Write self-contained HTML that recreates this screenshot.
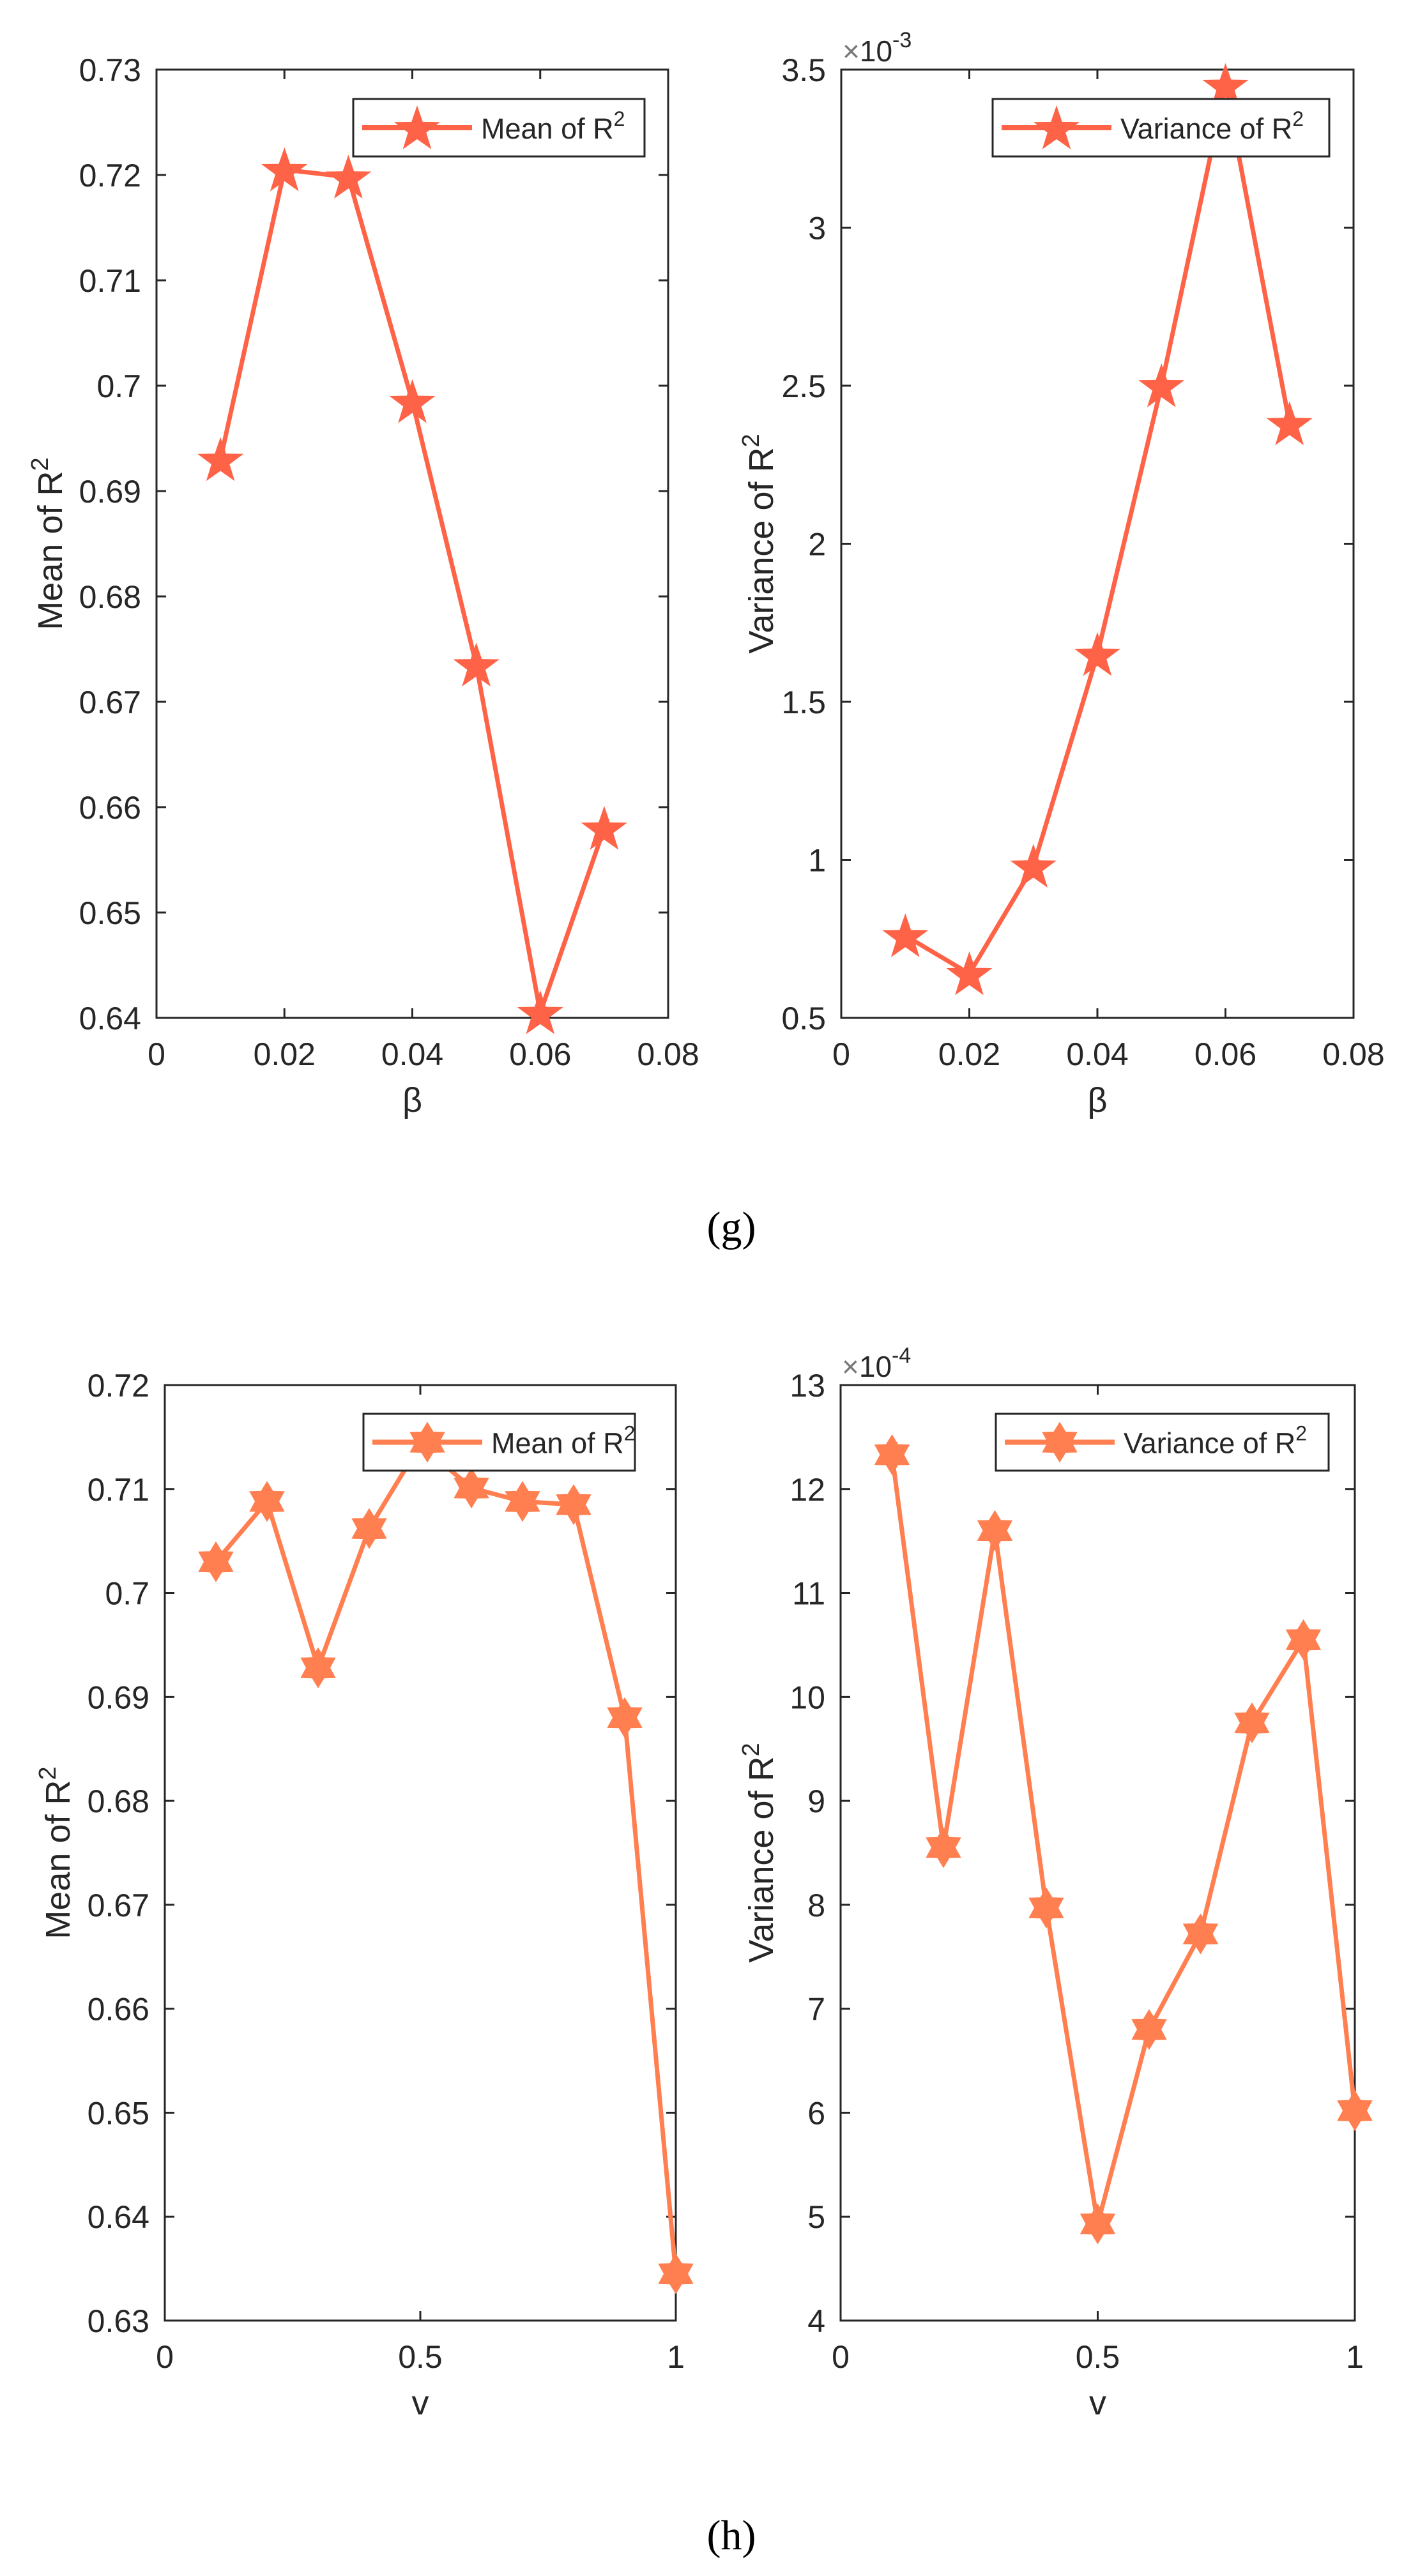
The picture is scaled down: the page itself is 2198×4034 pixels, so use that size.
<!DOCTYPE html>
<html><head><meta charset="utf-8"><style>
html,body{margin:0;padding:0;background:#fff;}
svg{display:block;}
text{font-family:"Liberation Sans",Arial,sans-serif;fill:#262626;}
</style></head><body>
<svg id="fig" xmlns="http://www.w3.org/2000/svg" width="2198" height="4034" viewBox="0 0 2198 4034">
<rect width="2198" height="4034" fill="#fff"/>
<text x="1145" y="1943" text-anchor="middle" style="font-family:'Liberation Serif',serif;font-size:66px;fill:#000">(g)</text>
<text x="1145" y="3992" text-anchor="middle" style="font-family:'Liberation Serif',serif;font-size:66px;fill:#000">(h)</text>
</svg>
<script>
// ---- data ----
const betaX = [0.01,0.02,0.03,0.04,0.05,0.06,0.07];
const betaMean = [0.693,0.7205,0.7198,0.6985,0.6735,0.6405,0.658];
const betaVar = [0.76,0.64,0.98,1.65,2.50,3.45,2.38];
const betaXTicks = [0,0.02,0.04,0.06,0.08];
const betaXTickLabels = ["0","0.02","0.04","0.06","0.08"];
const meanYTicksG = [0.64,0.65,0.66,0.67,0.68,0.69,0.7,0.71,0.72,0.73];
const meanYTickLabelsG = ["0.64","0.65","0.66","0.67","0.68","0.69","0.7","0.71","0.72","0.73"];
const varYTicksG = [0.5,1,1.5,2,2.5,3,3.5];
const varYTickLabelsG = ["0.5","1","1.5","2","2.5","3","3.5"];

const vX = [0.1,0.2,0.3,0.4,0.5,0.6,0.7,0.8,0.9,1.0];
const vMean = [0.703,0.7088,0.6928,0.7062,0.7143,0.7101,0.7088,0.7085,0.688,0.6345];
const vVar = [12.33,8.55,11.6,7.97,4.93,6.8,7.72,9.75,10.55,6.02];
const vXTicks = [0,0.5,1];
const vXTickLabels = ["0","0.5","1"];
const meanYTicksH = [0.63,0.64,0.65,0.66,0.67,0.68,0.69,0.7,0.71,0.72];
const meanYTickLabelsH = ["0.63","0.64","0.65","0.66","0.67","0.68","0.69","0.7","0.71","0.72"];
const varYTicksH = [4,5,6,7,8,9,10,11,12,13];
const varYTickLabelsH = ["4","5","6","7","8","9","10","11","12","13"];

const NS = "http://www.w3.org/2000/svg";
const svg = document.getElementById('fig');
function mk(tag, attrs, parent){
  const e = document.createElementNS(NS, tag);
  for (const k in attrs) e.setAttribute(k, attrs[k]);
  (parent||svg).appendChild(e);
  return e;
}
function starPts(cx, cy, n, ro, ri){
  const p=[];
  for(let i=0;i<2*n;i++){
    const r = i%2===0?ro:ri;
    const a = -Math.PI/2 + i*Math.PI/n;
    p.push((cx+r*Math.cos(a)).toFixed(1)+","+(cy+r*Math.sin(a)).toFixed(1));
  }
  return p.join(" ");
}
function drawPanel(cfg){
  const g = mk('g', {});
  
  
  const L=cfg.L,R=cfg.R,T=cfg.T,B=cfg.B;
  const sx = v => L + (v-cfg.xmin)/(cfg.xmax-cfg.xmin)*(R-L);
  const sy = v => B - (v-cfg.ymin)/(cfg.ymax-cfg.ymin)*(B-T);
  const box = mk('rect', {x:L,y:T,width:R-L,height:B-T,fill:'none',stroke:'#262626','stroke-width':3}, g);
  
  
  cfg.xticks.forEach((t,i)=>{
    const x = sx(t);
    const tk = mk('path', {d:`M${x},${B}v-15M${x},${T}v15`, stroke:'#262626','stroke-width':3}, g);
    
    
    const tl = mk('text', {x:x, y:B+74, 'text-anchor':'middle','font-size':50}, g);
    tl.textContent = cfg.xlabels[i];
    
    
  });
  cfg.yticks.forEach((t,i)=>{
    const y = sy(t);
    const tk = mk('path', {d:`M${L},${y}h15M${R},${y}h-15`, stroke:'#262626','stroke-width':3}, g);
    
    
    const tl = mk('text', {x:L-24, y:y+18, 'text-anchor':'end','font-size':50}, g);
    tl.textContent = cfg.ylabels[i];
    
    
  });
  const xt = mk('text', {x:(L+R)/2, y:B+147, 'text-anchor':'middle','font-size':54}, g);
  xt.textContent = cfg.xtitle;
  
  
  const cy=(T+B)/2;
  const yt = mk('text', {x:cfg.ytx, y:cy, 'text-anchor':'middle','font-size':54, transform:`rotate(-90 ${cfg.ytx} ${cy})`}, g);
  yt.innerHTML = cfg.ytitle + ' of R<tspan dy="-22" font-size="38">2</tspan>';
  
  
  if (cfg.exp){
    const ex = mk('text', {x:L+2, y:T-13,'font-size':46}, g);
    ex.innerHTML = '<tspan fill="#777">×</tspan>10<tspan dy="-22" font-size="34">'+cfg.exp+'</tspan>';
    
    
  }
  const pts = cfg.xs.map((x,i)=>sx(x).toFixed(1)+","+sy(cfg.ys[i]).toFixed(1)).join(" ");
  const line = mk('polyline', {points:pts, fill:'none', stroke:cfg.color,'stroke-width':7,'stroke-linejoin':'round'}, g);
  
  
  cfg.xs.forEach((x,i)=>{
    const m = mk('polygon', {points: cfg.hex ? starPts(sx(x), sy(cfg.ys[i]), 6, 32, 19) : starPts(sx(x), sy(cfg.ys[i])+3, 5, 38, 15), fill:cfg.color}, g);
    
    
  });
  const lg = mk('g', {}, g);
  
  
  const lb = mk('rect', {x:cfg.lg[0], y:cfg.lg[1], width:cfg.lg[2]-cfg.lg[0], height:cfg.lg[3]-cfg.lg[1], fill:'#fff', stroke:'#262626','stroke-width':3}, lg);
  
  
  const ly = (cfg.lg[1]+cfg.lg[3])/2;
  const ll = mk('path', {d:`M${cfg.lg[0]+14},${ly}h172`, stroke:cfg.color,'stroke-width':8}, lg);
  
  
  const lm = mk('polygon', {points: cfg.hex ? starPts(cfg.lg[0]+100, ly, 6, 32, 19) : starPts(cfg.lg[0]+100, ly+3, 5, 38, 15), fill:cfg.color}, lg);
  
  
  const lt = mk('text', {x:cfg.lg[0]+200, y:ly+17, 'font-size':45}, lg);
  lt.innerHTML = cfg.ytitle + ' of R<tspan dy="-20" font-size="32">2</tspan>';
  
  
}
const cTop = '#FF6347', cBot = '#FF7F50';
drawPanel({name:'plot-g-mean',L:245,R:1046,T:109,B:1594,xmin:0,xmax:0.08,ymin:0.64,ymax:0.73,
  xticks:betaXTicks,xlabels:betaXTickLabels,yticks:meanYTicksG,ylabels:meanYTickLabelsG,
  xtitle:'β',ytitle:'Mean',ytx:97,xs:betaX,ys:betaMean,color:cTop,hex:false,lg:[553,155,1009,245]});
drawPanel({name:'plot-g-variance',L:1317,R:2119,T:109,B:1594,xmin:0,xmax:0.08,ymin:0.5,ymax:3.5,
  xticks:betaXTicks,xlabels:betaXTickLabels,yticks:varYTicksG,ylabels:varYTickLabelsG,
  xtitle:'β',ytitle:'Variance',ytx:1210,xs:betaX,ys:betaVar,color:cTop,hex:false,exp:'-3',lg:[1554,155,2081,245]});
drawPanel({name:'plot-h-mean',L:258,R:1058,T:2169,B:3634,xmin:0,xmax:1,ymin:0.63,ymax:0.72,
  xticks:vXTicks,xlabels:vXTickLabels,yticks:meanYTicksH,ylabels:meanYTickLabelsH,
  xtitle:'v',ytitle:'Mean',ytx:109,xs:vX,ys:vMean,color:cBot,hex:true,lg:[569,2214,994,2303]});
drawPanel({name:'plot-h-variance',L:1316,R:2121,T:2169,B:3634,xmin:0,xmax:1,ymin:4,ymax:13,
  xticks:vXTicks,xlabels:vXTickLabels,yticks:varYTicksH,ylabels:varYTickLabelsH,
  xtitle:'v',ytitle:'Variance',ytx:1210,xs:vX,ys:vVar,color:cBot,hex:true,exp:'-4',lg:[1559,2214,2080,2303]});
</script>
</body></html>
